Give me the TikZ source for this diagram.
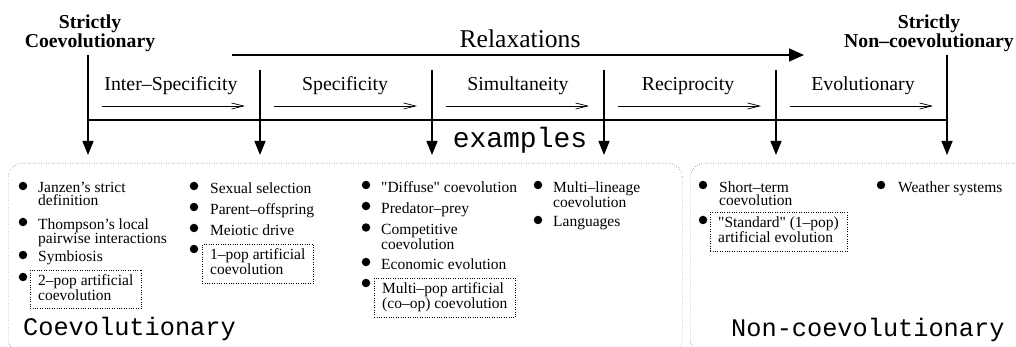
\documentclass[tikz,border=0pt]{standalone}
\usepackage{fontspec}
\setmainfont{Liberation Serif}
\setmonofont{Liberation Mono}
\usetikzlibrary{arrows.meta}

\begin{document}
\begin{tikzpicture}[
            x=1pt, y=-1pt,
            heading/.style = {font=\fontsize{19.7}{16}\selectfont\bfseries, align=center, inner sep=0pt, anchor=north},
            relaxname/.style = {font=\fontsize{19.8}{20}\selectfont, inner sep=0pt, anchor=base},
            example/.style = {font=\fontsize{15.5}{13}\selectfont, align=left, inner sep=0pt, anchor=north west},
            framed/.style = {example, draw, dotted, inner xsep=8pt, inner ysep=4.5pt},
            bullet/.style = {circle, fill, inner sep=0pt, minimum size=8.5pt},
            groupbox/.style = {draw, dotted, rounded corners=14pt, anchor=north west, inner sep=0pt},
            groupname/.style = {font=\fontsize{25.3}{26}\selectfont\ttfamily, inner sep=0pt, anchor=base west},
            axis/.style = {line width=1.4pt},
            drop/.style = {axis, -{Triangle[length=14pt, width=11pt]}},
            relaxarrow/.style = {line width=0.7pt, -{Straight Barb[length=12pt, width=6pt]}},
            ]
            \clip (0,0) rectangle (1016,347);

            \node[heading] (strictco)  at (90,15)  {Strictly\\Coevolutionary};
            \node[heading] (strictnon) at (929,15) {Strictly\\Non--coevolutionary};
            \node[font=\fontsize{25.6}{26}\selectfont, inner sep=0pt, anchor=base] (relax) at (520,48) {Relaxations};

            \coordinate (r0) at (232,55);
            \coordinate (r1) at (804,55);
            \coordinate (h0) at (88,120);
            \coordinate (h5) at (947,120);

            \coordinate (t0) at (88,55);
            \coordinate (t1) at (260,70);
            \coordinate (t2) at (432,70);
            \coordinate (t3) at (604,70);
            \coordinate (t4) at (776,70);
            \coordinate (t5) at (947,55);
            \coordinate (b0) at (88,155);
            \coordinate (b1) at (260,155);
            \coordinate (b2) at (432,155);
            \coordinate (b3) at (604,155);
            \coordinate (b4) at (776,155);
            \coordinate (b5) at (947,155);

            \coordinate (s0a) at (102,106);
            \coordinate (s0b) at (245,106);
            \coordinate (s1a) at (274,106);
            \coordinate (s1b) at (417,106);
            \coordinate (s2a) at (446,106);
            \coordinate (s2b) at (589,106);
            \coordinate (s3a) at (618,106);
            \coordinate (s3b) at (761,106);
            \coordinate (s4a) at (790,106);
            \coordinate (s4b) at (933,106);

            \node[relaxname] (interspec) at (171,91) {Inter--Specificity};
            \node[relaxname] (spec)      at (345,91) {Specificity};
            \node[relaxname] (simul)     at (518,91) {Simultaneity};
            \node[relaxname] (recip)     at (688,91) {Reciprocity};
            \node[relaxname] (evol)      at (863,91) {Evolutionary};

            \node[font=\fontsize{28}{28}\selectfont\ttfamily, inner sep=0pt, anchor=base] (examples) at (520,148) {examples};

            % the two groups
            \node[groupbox, minimum width=674pt, minimum height=190pt] (coevbox)    at (8,163)   {};
            \node[groupbox, minimum width=340pt, minimum height=190pt] (noncoevbox) at (690,163) {};
            \node[groupname] (coevname)    at (23,335)  {Coevolutionary};
            \node[groupname] (noncoevname) at (731,336) {Non-coevolutionary};

            \node[example] (janzen)    at (38,182.4) {Janzen's strict\\definition};
            \node[example] (thompson)  at (38,218.4) {Thompson's local\\pairwise interactions};
            \node[example] (symbiosis) at (38,250.4) {Symbiosis};
            \node[framed]  (twopop)    at (30,269.5) {2--pop artificial\\coevolution\strut};

            \node[example] (sexual)  at (210,182.4) {Sexual selection};
            \node[example] (parent)  at (210,203.4) {Parent--offspring};
            \node[example] (meiotic) at (210,224.4) {Meiotic drive};
            \node[framed]  (onepop)  at (202,244)   {1--pop artificial\\coevolution\strut};

            \node[example] (diffuse)     at (381,181.4) {\textquotedbl Diffuse\textquotedbl{} coevolution};
            \node[example] (predator)    at (381,202.4) {Predator--prey};
            \node[example] (competitive) at (381,223.9) {Competitive\\coevolution};
            \node[example] (economic)    at (381,258.4) {Economic evolution};
            \node[framed]  (multipop)    at (374,278)   {Multi--pop artificial\\(co--op) coevolution\strut};

            \node[example] (lineage)   at (553,181.4) {Multi--lineage\\coevolution};
            \node[example] (languages) at (553,216.4) {Languages};

            \node[example] (shortterm) at (719,181.4) {Short--term\\coevolution};
            \node[framed]  (standard)  at (710,212)   {\textquotedbl Standard\textquotedbl{} (1--pop)\\artificial evolution\strut};

            \node[example] (weather) at (898,181.4) {Weather systems};

            \node[bullet] (bjanzen)    at (23,186) {};
            \node[bullet] (bthompson)  at (23,222) {};
            \node[bullet] (bsymbiosis) at (23,255) {};
            \node[bullet] (btwopop)    at (23,277) {};
            \node[bullet] (bsexual)    at (194,186) {};
            \node[bullet] (bparent)    at (194,207) {};
            \node[bullet] (bmeiotic)   at (194,228) {};
            \node[bullet] (bonepop)    at (194,249) {};
            \node[bullet] (bdiffuse)   at (366,185) {};
            \node[bullet] (bpredator)  at (366,206) {};
            \node[bullet] (bcompet)    at (366,227.5) {};
            \node[bullet] (beconomic)  at (366,262) {};
            \node[bullet] (bmultipop)  at (366,283) {};
            \node[bullet] (blineage)   at (538,185) {};
            \node[bullet] (blanguages) at (538,220) {};
            \node[bullet] (bshortterm) at (703,185) {};
            \node[bullet] (bstandard)  at (703,220) {};
            \node[bullet] (bweather)   at (881,185) {};

            \draw[axis, -{Triangle[length=15pt, width=13pt]}] (r0) -- (r1);
            \draw[axis] (h0) -- (h5);

            \draw[drop] (t0) -- (b0);
            \draw[drop] (t1) -- (b1);
            \draw[drop] (t2) -- (b2);
            \draw[drop] (t3) -- (b3);
            \draw[drop] (t4) -- (b4);
            \draw[drop] (t5) -- (b5);

            \draw[relaxarrow] (s0a) -- (s0b);
            \draw[relaxarrow] (s1a) -- (s1b);
            \draw[relaxarrow] (s2a) -- (s2b);
            \draw[relaxarrow] (s3a) -- (s3b);
            \draw[relaxarrow] (s4a) -- (s4b);

        \end{tikzpicture}
\end{document}
